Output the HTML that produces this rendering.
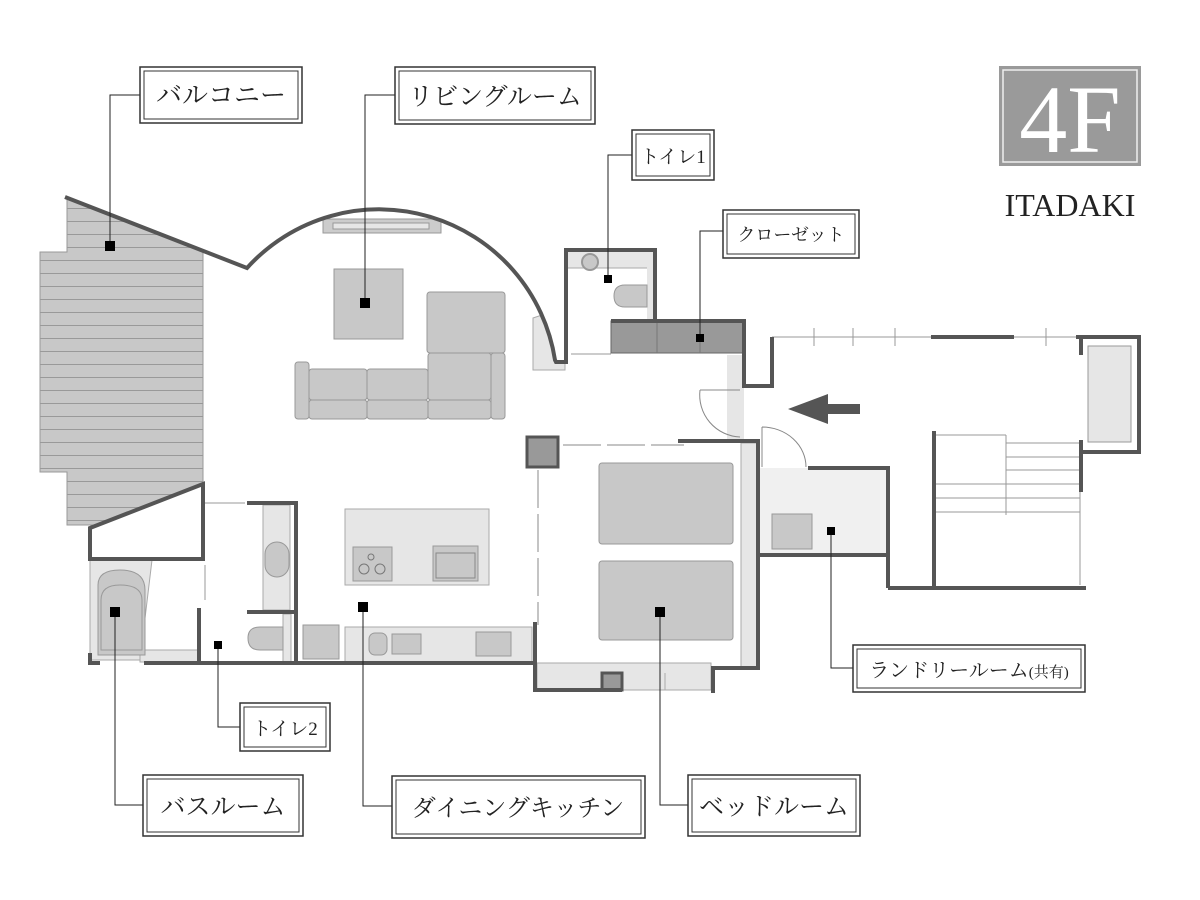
<!DOCTYPE html>
<html><head><meta charset="utf-8"><style>
html,body{margin:0;padding:0;background:#fff}
svg{display:block}
.lb{font-family:"Liberation Serif","Noto Serif CJK JP","Noto Serif CJK SC",serif;fill:#222}
</style></head><body>
<svg width="1200" height="900" viewBox="0 0 1200 900" xmlns="http://www.w3.org/2000/svg">
<defs>
<pattern id="hatch" x="0" y="0" width="10" height="13" patternUnits="userSpaceOnUse">
<rect width="10" height="13" fill="#c8c8c8"/><line x1="0" y1="0.5" x2="10" y2="0.5" stroke="#999" stroke-width="1"/>
</pattern>
</defs>
<polygon points="67,197 203,252 203,252 203,525 67,525 67,472 40,472 40,252 67,252" fill="url(#hatch)" stroke="#999" stroke-width="1"/>
<polygon points="203,484 90,528 90,559 203,559" fill="#fff"/>
<path d="M533,318 L542,315 L550,335 L555,360 L565,362 L565,370 L533,370 Z" fill="#e6e6e6" stroke="#aaa" stroke-width="1"/>
<rect x="323" y="219" width="118" height="14" fill="#ccc" stroke="#999"/>
<rect x="333" y="223" width="96" height="6" fill="#e6e6e6" stroke="#999"/>
<rect x="334" y="269" width="69" height="70" fill="#c8c8c8" stroke="#999"/>
<g fill="#c8c8c8" stroke="#999">
<rect x="427" y="292" width="78" height="61" rx="3"/>
<rect x="295" y="362" width="14" height="57" rx="3"/>
<rect x="309" y="369" width="58" height="31" rx="3"/>
<rect x="367" y="369" width="61" height="31" rx="3"/>
<rect x="428" y="353" width="63" height="47" rx="3"/>
<rect x="309" y="400" width="58" height="19" rx="3"/>
<rect x="367" y="400" width="61" height="19" rx="3"/>
<rect x="428" y="400" width="63" height="19" rx="3"/>
<rect x="491" y="353" width="14" height="66" rx="3"/>
</g>
<polygon points="90,560 152,560 140,660 90,660" fill="#e6e6e6" stroke="#aaa"/>
<rect x="140" y="650" width="58" height="12" fill="#e6e6e6" stroke="#aaa"/>
<path d="M98,655 L98,585 Q98,570 120,570 Q145,570 145,590 L145,655 Z" fill="#c8c8c8" stroke="#999"/>
<path d="M101,650 L101,600 Q101,585 120,585 Q142,585 142,600 L142,650 Z" fill="#c8c8c8" stroke="#999"/>
<rect x="263" y="505" width="27" height="105" fill="#e6e6e6" stroke="#aaa"/>
<rect x="265" y="542" width="24" height="35" rx="12" fill="#c8c8c8" stroke="#999"/>
<rect x="283" y="614" width="8" height="48" fill="#e6e6e6" stroke="#aaa"/>
<path d="M283,627 L260,627 Q248,627 248,638 Q248,650 260,650 L283,650 Z" fill="#c8c8c8" stroke="#999"/>
<rect x="303" y="625" width="36" height="34" fill="#c8c8c8" stroke="#999"/>
<rect x="345" y="627" width="187" height="36" fill="#e6e6e6" stroke="#aaa"/>
<rect x="369" y="633" width="18" height="22" rx="6" fill="#c8c8c8" stroke="#999"/>
<rect x="392" y="634" width="29" height="20" fill="#c8c8c8" stroke="#999"/>
<rect x="476" y="632" width="35" height="24" fill="#c8c8c8" stroke="#999"/>
<rect x="345" y="509" width="144" height="76" fill="#e6e6e6" stroke="#aaa"/>
<rect x="353" y="547" width="39" height="34" fill="#c8c8c8" stroke="#999"/>
<circle cx="364" cy="569" r="5" fill="none" stroke="#777"/><circle cx="380" cy="569" r="5" fill="none" stroke="#777"/><circle cx="371" cy="557" r="3" fill="none" stroke="#777"/>
<rect x="433" y="546" width="45" height="35" fill="#c8c8c8" stroke="#999"/>
<rect x="436" y="553" width="39" height="25" fill="#c8c8c8" stroke="#888"/>
<rect x="567" y="252" width="88" height="16" fill="#e6e6e6"/>
<rect x="647" y="252" width="9" height="68" fill="#e6e6e6"/>
<line x1="567" y1="268" x2="647" y2="268" stroke="#aaa"/>
<circle cx="590" cy="262" r="8" fill="#c8c8c8" stroke="#999" stroke-width="2"/>
<path d="M647,285 L625,285 Q614,285 614,296 Q614,307 625,307 L647,307 Z" fill="#c8c8c8" stroke="#999"/>
<line x1="571" y1="354" x2="611" y2="354" stroke="#999"/>
<rect x="611" y="321" width="133" height="32" fill="#999" stroke="#666"/>
<line x1="657" y1="321" x2="657" y2="353" stroke="#777"/><line x1="700" y1="321" x2="700" y2="353" stroke="#777"/>
<rect x="727" y="355" width="17" height="85" fill="#e6e6e6"/>
<path d="M700,390 L740,390 M700,390 A42,42 0 0 0 740,437" fill="none" stroke="#888"/>
<rect x="760" y="468" width="128" height="87" fill="#f0f0f0"/>
<rect x="772" y="514" width="40" height="35" fill="#c8c8c8" stroke="#999"/>
<path d="M762,427 L762,467 M762,427 A44,40 0 0 1 806,467" fill="none" stroke="#888"/>
<rect x="741" y="443" width="17" height="225" fill="#e6e6e6" stroke="#aaa"/>
<rect x="527" y="437" width="31" height="30" fill="#999" stroke="#555" stroke-width="3"/>
<line x1="563" y1="445" x2="684" y2="445" stroke="#888" stroke-dasharray="38,6"/>
<line x1="538" y1="470" x2="538" y2="625" stroke="#888" stroke-dasharray="38,6"/>
<rect x="599" y="463" width="134" height="81" rx="3" fill="#c8c8c8" stroke="#999"/>
<rect x="599" y="561" width="134" height="79" rx="3" fill="#c8c8c8" stroke="#999"/>
<rect x="537" y="663" width="174" height="27" fill="#e6e6e6" stroke="#aaa"/>
<line x1="665" y1="673" x2="665" y2="690" stroke="#aaa"/>
<rect x="602" y="673" width="20" height="17" fill="#999" stroke="#555" stroke-width="3"/>
<rect x="1088" y="346" width="43" height="96" fill="#e6e6e6" stroke="#999"/>
<g stroke="#999" stroke-width="1">
<line x1="936" y1="435" x2="1006" y2="435"/>
<line x1="1006" y1="443" x2="1080" y2="443"/>
<line x1="1006" y1="457" x2="1080" y2="457"/>
<line x1="1006" y1="470" x2="1080" y2="470"/>
<line x1="936" y1="484" x2="1080" y2="484"/>
<line x1="936" y1="498" x2="1080" y2="498"/>
<line x1="936" y1="512" x2="1080" y2="512"/>
<line x1="1006" y1="435" x2="1006" y2="515"/>
<line x1="1080" y1="443" x2="1080" y2="585"/>
<line x1="772" y1="337" x2="1076" y2="337"/>
<line x1="814" y1="328" x2="814" y2="346"/><line x1="853" y1="328" x2="853" y2="346"/><line x1="895" y1="328" x2="895" y2="346"/><line x1="1046" y1="328" x2="1046" y2="346"/>
<line x1="205" y1="503" x2="245" y2="503"/>
<line x1="205" y1="565" x2="205" y2="600"/>
</g>
<g fill="none" stroke="#555" stroke-width="4" stroke-linejoin="miter">
<path d="M65,197 L247,268 A178,178 0 0 1 555,360 L556,362 L566,362 L566,250 L655,250 L655,321"/>
<path d="M611,321 L744,321 L744,386 L772,386 L772,337"/>
<path d="M931,337 L1014,337"/>
<path d="M1076,337 L1139,337 L1139,452 L1081,452"/>
<path d="M1081,337 L1081,355 M1081,440 L1081,492"/>
<path d="M934,431 L934,588 M888,588 L1086,588"/>
<path d="M808,468 L888,468 L888,588 M758,555 L888,555"/>
<path d="M678,441 L758,441 L758,668 L713,668 L713,693"/>
<path d="M535,622 L535,690 L622,690"/>
<path d="M203,484 L90,528 L90,559 L203,559 Z"/>
<path d="M90,653 L90,663 L100,663 M144,663 L535,663"/>
<path d="M199,608 L199,663"/>
<path d="M247,503 L296,503 L296,663 M247,612 L296,612"/>
</g>
<rect x="824" y="404" width="36" height="10" fill="#555"/>
<polygon points="788,409 828,394 828,424" fill="#555"/>
<g stroke="#222" stroke-width="1" fill="none">
<path d="M140,95 H110 V246"/>
<path d="M395,95 H365 V303"/>
<path d="M632,155 H608 V279"/>
<path d="M723,231 H700 V338"/>
<path d="M853,668 H831 V531"/>
<path d="M240,727 H218 V645"/>
<path d="M143,805 H115 V612"/>
<path d="M392,806 H363 V607"/>
<path d="M688,805 H660 V612"/>
</g>
<g fill="#000">
<rect x="105" y="241" width="10" height="10"/>
<rect x="360" y="298" width="10" height="10"/>
<rect x="604" y="275" width="8" height="8"/>
<rect x="696" y="334" width="8" height="8"/>
<rect x="827" y="527" width="8" height="8"/>
<rect x="214" y="641" width="8" height="8"/>
<rect x="110" y="607" width="10" height="10"/>
<rect x="358" y="602" width="10" height="10"/>
<rect x="655" y="607" width="10" height="10"/>
</g>
<g fill="#fff" stroke="#333">
<rect x="140" y="67" width="162" height="56" stroke-width="1.5"/><rect x="144" y="71" width="154" height="48"/>
<rect x="395" y="67" width="200" height="57" stroke-width="1.5"/><rect x="399" y="71" width="192" height="49"/>
<rect x="632" y="130" width="82" height="50" stroke-width="1.5"/><rect x="636" y="134" width="74" height="42"/>
<rect x="723" y="210" width="136" height="48" stroke-width="1.5"/><rect x="727" y="214" width="128" height="40"/>
<rect x="853" y="645" width="232" height="47" stroke-width="1.5"/><rect x="857" y="649" width="224" height="39"/>
<rect x="240" y="703" width="90" height="48" stroke-width="1.5"/><rect x="244" y="707" width="82" height="40"/>
<rect x="143" y="775" width="160" height="61" stroke-width="1.5"/><rect x="147" y="779" width="152" height="53"/>
<rect x="392" y="776" width="253" height="62" stroke-width="1.5"/><rect x="396" y="780" width="245" height="54"/>
<rect x="688" y="775" width="172" height="61" stroke-width="1.5"/><rect x="692" y="779" width="164" height="53"/>
</g>
<g class="lb" text-anchor="middle">
<text x="221" y="104" font-size="26">バルコニー</text>
<text x="495" y="105" font-size="25">リビングルーム</text>
<text x="673" y="163" font-size="19">トイレ1</text>
<text x="791" y="241" font-size="18">クローゼット</text>
<text x="969" y="677" font-size="20">ランドリールーム<tspan font-size="15">(共有)</tspan></text>
<text x="285" y="735" font-size="19">トイレ2</text>
<text x="223" y="815" font-size="25">バスルーム</text>
<text x="518" y="816" font-size="24">ダイニングキッチン</text>
<text x="774" y="815" font-size="25">ベッドルーム</text>
</g>
<rect x="999" y="66" width="142" height="100" fill="#9a9a9a"/>
<rect x="1003" y="70" width="134" height="92" fill="none" stroke="#eee" stroke-width="1.5"/>
<text x="1070" y="152" text-anchor="middle" font-family="Liberation Serif,serif" font-size="96" fill="#fff">4F</text>
<text x="1070" y="216" text-anchor="middle" font-family="Liberation Serif,serif" font-size="32" fill="#222">ITADAKI</text>
</svg>
</body></html>
